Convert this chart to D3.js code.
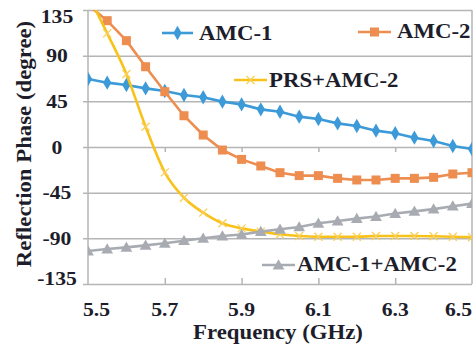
<!DOCTYPE html>
<html><head><meta charset="utf-8">
<script src="https://cdn.jsdelivr.net/npm/d3@7"></script>
<style>body{margin:0;background:#fff}svg{display:block}
text{font-family:"Liberation Serif","Tinos","DejaVu Serif",serif;font-weight:bold}</style>
</head><body>
<svg id="c" width="473" height="349"></svg>
<script>
const freq = [5.5,5.55,5.6,5.65,5.7,5.75,5.8,5.85,5.9,5.95,6.0,6.05,6.1,6.15,6.2,6.25,6.3,6.35,6.4,6.45,6.5];
const amc1 = [67,63.4,61.1,57.8,55.2,51.2,49,44.7,42,37.1,34.8,29.9,27.6,23.3,20.7,16.1,13.5,9.2,5.9,1,-2];
const amc2 = [140,124.5,104.8,79.1,54.5,30.8,11.8,-3,-12.2,-18.7,-25.3,-28.2,-28.2,-30.9,-32.5,-32.5,-30.9,-30.9,-29.9,-26.6,-25.3];
const prsAmc2 = [150,112,72,20,-25,-50,-64.7,-75.2,-80.2,-83.4,-86,-87.7,-88.4,-88.4,-88.4,-87.7,-87.7,-87.7,-88,-88.4,-89];
const amc12 = [-102.5,-100.5,-98.9,-96.9,-94.9,-92.3,-90,-87.7,-86.2,-83.4,-81.1,-78.8,-75.2,-72.9,-70.6,-68.5,-65.6,-63.4,-61.2,-58.3,-55.8];
const seriesNames = ["AMC-1","AMC-2","PRS+AMC-2","AMC-1+AMC-2"];
const yTicks = [-135,-90,-45,0,45,90,135];
const xTicks = [5.5,5.7,5.9,6.1,6.3,6.5];
const xTickLabels = ["5.5","5.7","5.9","6.1","6.3","6.5"];
const yTickLabels = ["-135","-90","-45","0","45","90","135"];

const svg = d3.select("#c");
const L = 88, R = 472, T = 10, B = 284;
const x = d3.scaleLinear().domain([5.5,6.5]).range([L,R]);
const y = d3.scaleLinear().domain([-135,135]).range([B,T]);
const grid = "#b5b5b5", ink = "#1d1d2b";
const SX = 1.14;

function txt(px, py, s, size, anchor, rot) {
  return svg.append("text")
    .attr("transform", `translate(${px},${py}) rotate(${rot||0}) scale(${SX},1)`)
    .attr("text-anchor", anchor || "start")
    .attr("font-size", size).attr("fill", ink).text(s);
}

const gy = svg.append("g").attr("transform", `translate(${L},0)`)
  .call(d3.axisLeft(y).tickValues(yTicks).tickSizeInner(-(R-L)).tickSizeOuter(0).tickFormat(""));
gy.select(".domain").remove();
gy.selectAll(".tick line").attr("stroke", grid).attr("stroke-width", 1.5).attr("x1", -5);
svg.append("line").attr("x1",L).attr("x2",L).attr("y1",T).attr("y2",B).attr("stroke",grid).attr("stroke-width",1.5);
svg.append("line").attr("x1",R).attr("x2",R).attr("y1",T).attr("y2",B).attr("stroke",grid).attr("stroke-width",1.5);

const gx0 = svg.append("g").attr("transform", `translate(0,${y(0)})`)
  .call(d3.axisBottom(x).tickValues(xTicks.slice(1,-1)).tickSizeInner(5).tickSizeOuter(0).tickFormat(""));
gx0.select(".domain").remove();
gx0.selectAll(".tick line").attr("stroke", grid).attr("stroke-width", 1.5);
const gxb = svg.append("g").attr("transform", `translate(0,${B})`)
  .call(d3.axisBottom(x).tickValues(xTicks.slice(1,-1)).tickSizeInner(-6).tickSizeOuter(0).tickFormat(""));
gxb.select(".domain").remove();
gxb.selectAll(".tick line").attr("stroke", grid).attr("stroke-width", 1.5);

yTicks.forEach((v,i) => {
  let dy = 0;
  if (i === yTicks.length-1) dy = 6;
  if (i === 0) dy = -6;
  txt(57, y(v) + dy + 6.5, yTickLabels[i], 19, "middle");
});
xTicks.forEach((v,i) => {
  if (i === 0) txt(x(v) - 5, 316, xTickLabels[i], 19, "start");
  else if (i === xTicks.length-1) txt(x(v), 316, xTickLabels[i], 19, "end");
  else txt(x(v), 316, xTickLabels[i], 19, "middle");
});

txt(278, 339, "Frequency (GHz)", 20, "middle");
txt(31, 144, "Reflection Phase (degree)", 20, "middle", -90);

svg.append("clipPath").attr("id","clip").append("rect")
  .attr("x",L).attr("y",T).attr("width",R-L).attr("height",B-T);
const plot = svg.append("g").attr("clip-path","url(#clip)");

const colors = ["#3c9ad9","#ee8d50","#f9c21a","#a8acb2"];
const datas = [amc1, amc2, prsAmc2, amc12];
const curves = [d3.curveLinear, d3.curveLinear, d3.curveMonotoneX, d3.curveLinear];
const shapes = ["diamond","square","x","triangle"];

function marker(g, shape, cx, cy, col) {
  if (shape === "diamond") {
    g.append("path").attr("d", d3.symbol(d3.symbolDiamond, 60)()).attr("transform",`translate(${cx},${cy})`).attr("fill",col);
  } else if (shape === "square") {
    g.append("rect").attr("x",cx-4.5).attr("y",cy-4.5).attr("width",9).attr("height",9).attr("fill",col);
  } else if (shape === "triangle") {
    g.append("path").attr("d", d3.symbol(d3.symbolTriangle, 60)()).attr("transform",`translate(${cx},${cy+1})`).attr("fill",col);
  } else {
    g.append("path").attr("d", `M${cx-4},${cy-4}L${cx+4},${cy+4}M${cx-4},${cy+4}L${cx+4},${cy-4}`)
      .attr("stroke", "#f8cf5a").attr("stroke-width", 1.3).attr("fill","none");
  }
}

datas.forEach((d,si) => {
  const line = d3.line().x((v,i)=>x(freq[i])).y(v=>y(v)).curve(curves[si]);
  plot.append("path").datum(d).attr("d", line).attr("fill","none")
    .attr("stroke", colors[si]).attr("stroke-width", 2.6);
  d.forEach((v,i) => marker(plot, shapes[si], x(freq[i]), y(v), colors[si]));
});

const legend = [
  {x1:162, x2:193, y:33, tx:199, ty:40},
  {x1:358, x2:391, y:32, tx:397, ty:38},
  {x1:234, x2:267, y:80, tx:269, ty:87},
  {x1:262, x2:295, y:265, tx:297, ty:271}
];
legend.forEach((l,si) => {
  svg.append("line").attr("x1",l.x1).attr("x2",l.x2).attr("y1",l.y).attr("y2",l.y)
    .attr("stroke",colors[si]).attr("stroke-width",2.6);
  marker(svg, shapes[si], (l.x1+l.x2)/2, l.y, colors[si]);
  txt(l.tx, l.ty, seriesNames[si], 20, "start");
});
</script>
</body></html>
